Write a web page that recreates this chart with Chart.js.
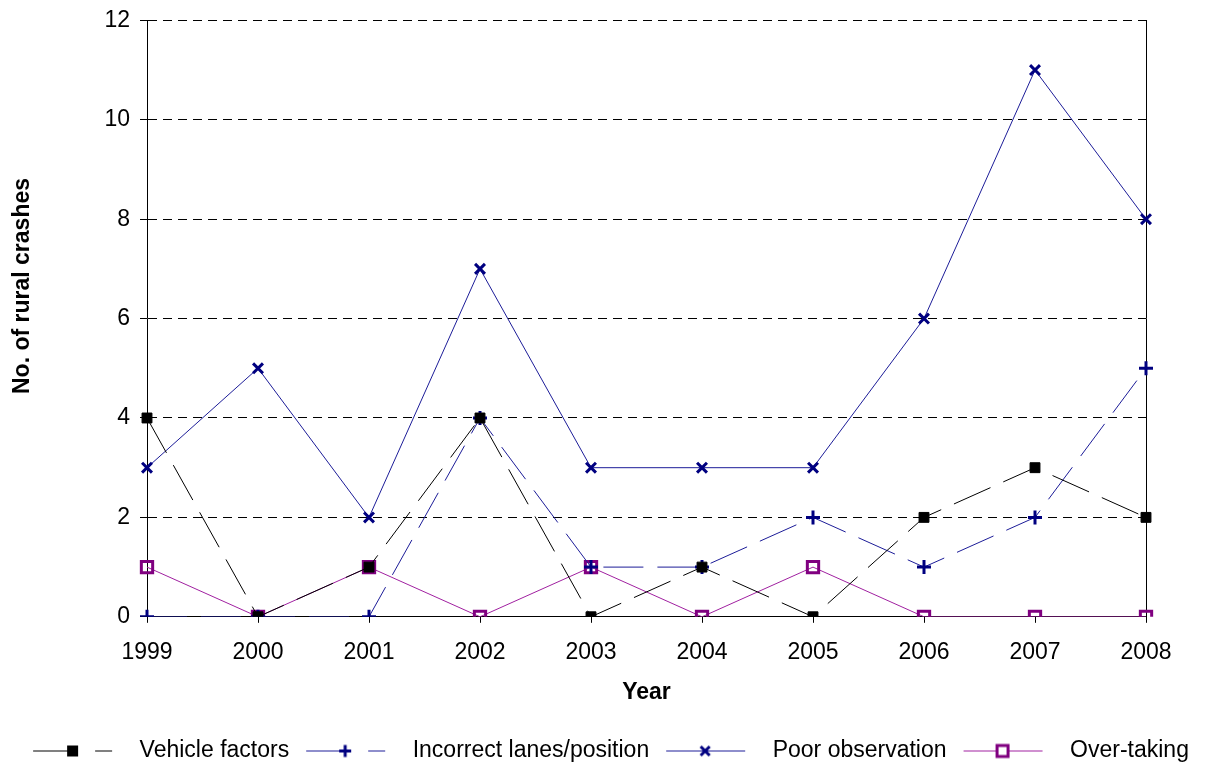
<!DOCTYPE html>
<html>
<head>
<meta charset="utf-8">
<script src="https://cdn.jsdelivr.net/npm/chart.js@4.4.0/dist/chart.umd.min.js"></script>
<style>
  html, body { margin: 0; padding: 0; background: #fff; }
  #wrap { width: 1213px; height: 767px; }
</style>
</head>
<body>
<div id="wrap"><canvas id="crashChart" width="1213" height="767"></canvas></div>
<script>
// data
const years = ['1999', '2000', '2001', '2002', '2003', '2004', '2005', '2006', '2007', '2008'];
const vehicleFactors = [4, 0, 1, 4, 0, 1, 0, 2, 3, 2];
const incorrectLanes = [0, 0, 0, 4, 1, 1, 2, 1, 2, 5];
const poorObservation = [3, 5, 2, 7, 3, 3, 3, 6, 11, 8];
const overTaking = [1, 0, 1, 0, 1, 0, 1, 0, 0, 0];
const yTicks = [0, 2, 4, 6, 8, 10, 12];

const FONT = "'Liberation Sans', Arial, sans-serif";
const navy = '#000080';
const purple = '#800080';
const blueLine = '#1c1c98';
const purpleLine = '#a020a0';

// little line + marker pictures for the legend, like the excel ones
function legendSample(color, dashed, marker) {
    const c = document.createElement('canvas');
    c.width = 104;
    c.height = 20;
    const g = c.getContext('2d');
    const x0 = 9;
    g.strokeStyle = color;
    g.lineWidth = 1;
    g.beginPath();
    if (dashed) {
        g.moveTo(x0, 10.5); g.lineTo(x0 + 35, 10.5);
        g.moveTo(x0 + 62, 10.5); g.lineTo(x0 + 79, 10.5);
    } else {
        g.moveTo(x0, 10.5); g.lineTo(x0 + 79, 10.5);
    }
    g.stroke();
    const cx = x0 + 39, cy = 10.5;
    g.lineWidth = 3;
    if (marker === 'fillsq') {
        g.fillStyle = '#000';
        g.fillRect(cx - 5, cy - 5.5, 11, 11);
    } else if (marker === 'plus') {
        g.strokeStyle = navy;
        g.beginPath();
        g.moveTo(cx - 6, cy); g.lineTo(cx + 6, cy);
        g.moveTo(cx, cy - 6); g.lineTo(cx, cy + 6);
        g.stroke();
    } else if (marker === 'x') {
        g.strokeStyle = navy;
        g.beginPath();
        g.moveTo(cx - 4.5, cy - 4.5); g.lineTo(cx + 4.5, cy + 4.5);
        g.moveTo(cx + 4.5, cy - 4.5); g.lineTo(cx - 4.5, cy + 4.5);
        g.stroke();
    } else if (marker === 'sq') {
        g.fillStyle = '#fff';
        g.fillRect(cx - 5.5, cy - 5.5, 11, 11);
        g.strokeStyle = purple;
        g.strokeRect(cx - 5.5, cy - 5.5, 11, 11);
    }
    return c;
}

const legendImgs = [
    legendSample('#000', true, 'fillsq'),
    legendSample(blueLine, true, 'plus'),
    legendSample(blueLine, false, 'x'),
    legendSample(purpleLine, false, 'sq')
];

// y title is off-centre in the original, so it is drawn here
const yTitlePlugin = {
    id: 'yTitle',
    afterDraw(chart) {
        const ctx = chart.ctx;
        ctx.save();
        ctx.translate(23, 286);
        ctx.rotate(-Math.PI / 2);
        ctx.font = 'bold 23px ' + FONT;
        ctx.fillStyle = '#000';
        ctx.textAlign = 'center';
        ctx.textBaseline = 'middle';
        ctx.fillText('No. of rural crashes', 0, 0);
        ctx.restore();
    }
};

const ctx = document.getElementById('crashChart').getContext('2d');

new Chart(ctx, {
    type: 'line',
    data: {
        labels: years,
        datasets: [
            {
                label: 'Vehicle factors',
                data: vehicleFactors,
                borderColor: '#000',
                borderWidth: 1,
                borderDash: [40, 14],
                pointStyle: 'rect',
                pointRadius: 7,
                pointBackgroundColor: '#000',
                pointBorderColor: '#000',
                pointBorderWidth: 1
            },
            {
                label: 'Incorrect lanes/position',
                data: incorrectLanes,
                borderColor: blueLine,
                borderWidth: 1,
                borderDash: [40, 14],
                pointStyle: 'cross',
                pointRadius: 7,
                pointBorderColor: navy,
                pointBorderWidth: 3
            },
            {
                label: 'Poor observation',
                data: poorObservation,
                borderColor: blueLine,
                borderWidth: 1,
                pointStyle: 'crossRot',
                pointRadius: 7,
                pointBorderColor: navy,
                pointBorderWidth: 3
            },
            {
                label: 'Over-taking',
                data: overTaking,
                borderColor: purpleLine,
                borderWidth: 1,
                pointStyle: 'rect',
                pointRadius: 8,
                pointBackgroundColor: 'rgba(0,0,0,0)',
                pointBorderColor: purple,
                pointBorderWidth: 3
            }
        ]
    },
    options: {
        responsive: false,
        animation: false,
        layout: { padding: { left: 0, right: 0, top: 3, bottom: -5 } },
        plugins: {
            tooltip: { enabled: false },
            legend: {
                position: 'bottom',
                labels: {
                    usePointStyle: true,
                    pointStyleWidth: 104,
                    padding: 8,
                    color: '#000',
                    font: { family: FONT, size: 23 },
                    generateLabels: chart => chart.data.datasets.map((ds, i) => ({
                        text: ds.label,
                        pointStyle: legendImgs[i],
                        datasetIndex: i,
                        hidden: false,
                        lineWidth: 0,
                        fontColor: '#000'
                    }))
                }
            }
        },
        scales: {
            x: {
                offset: false,
                grid: { display: true, drawOnChartArea: false, color: '#000', tickLength: 6 },
                border: { display: true, color: '#000', width: 1 },
                ticks: { color: '#000', font: { family: FONT, size: 23 }, padding: 16, maxRotation: 0, autoSkip: false },
                title: {
                    display: true,
                    text: 'Year',
                    color: '#000',
                    font: { family: FONT, size: 23, weight: 'bold' },
                    padding: { top: -4, bottom: 25 }
                }
            },
            y: {
                min: 0,
                max: 12,
                afterBuildTicks: axis => { axis.ticks = yTicks.map(v => ({ value: v })); },
                afterFit: axis => { axis.width = 147; },
                grid: { color: '#000', lineWidth: 1, tickLength: 7 },
                border: { display: true, color: '#000', width: 1, dash: [9, 6] },
                ticks: { color: '#000', font: { family: FONT, size: 23, lineHeight: 0.9 }, padding: 10 }
            },
            y2: {
                position: 'right',
                min: 0,
                max: 12,
                afterFit: axis => { axis.width = 67; },
                grid: { display: false },
                border: { display: true, color: '#000', width: 1 },
                ticks: { display: false }
            }
        }
    },
    plugins: [yTitlePlugin]
});
</script>
</body>
</html>
